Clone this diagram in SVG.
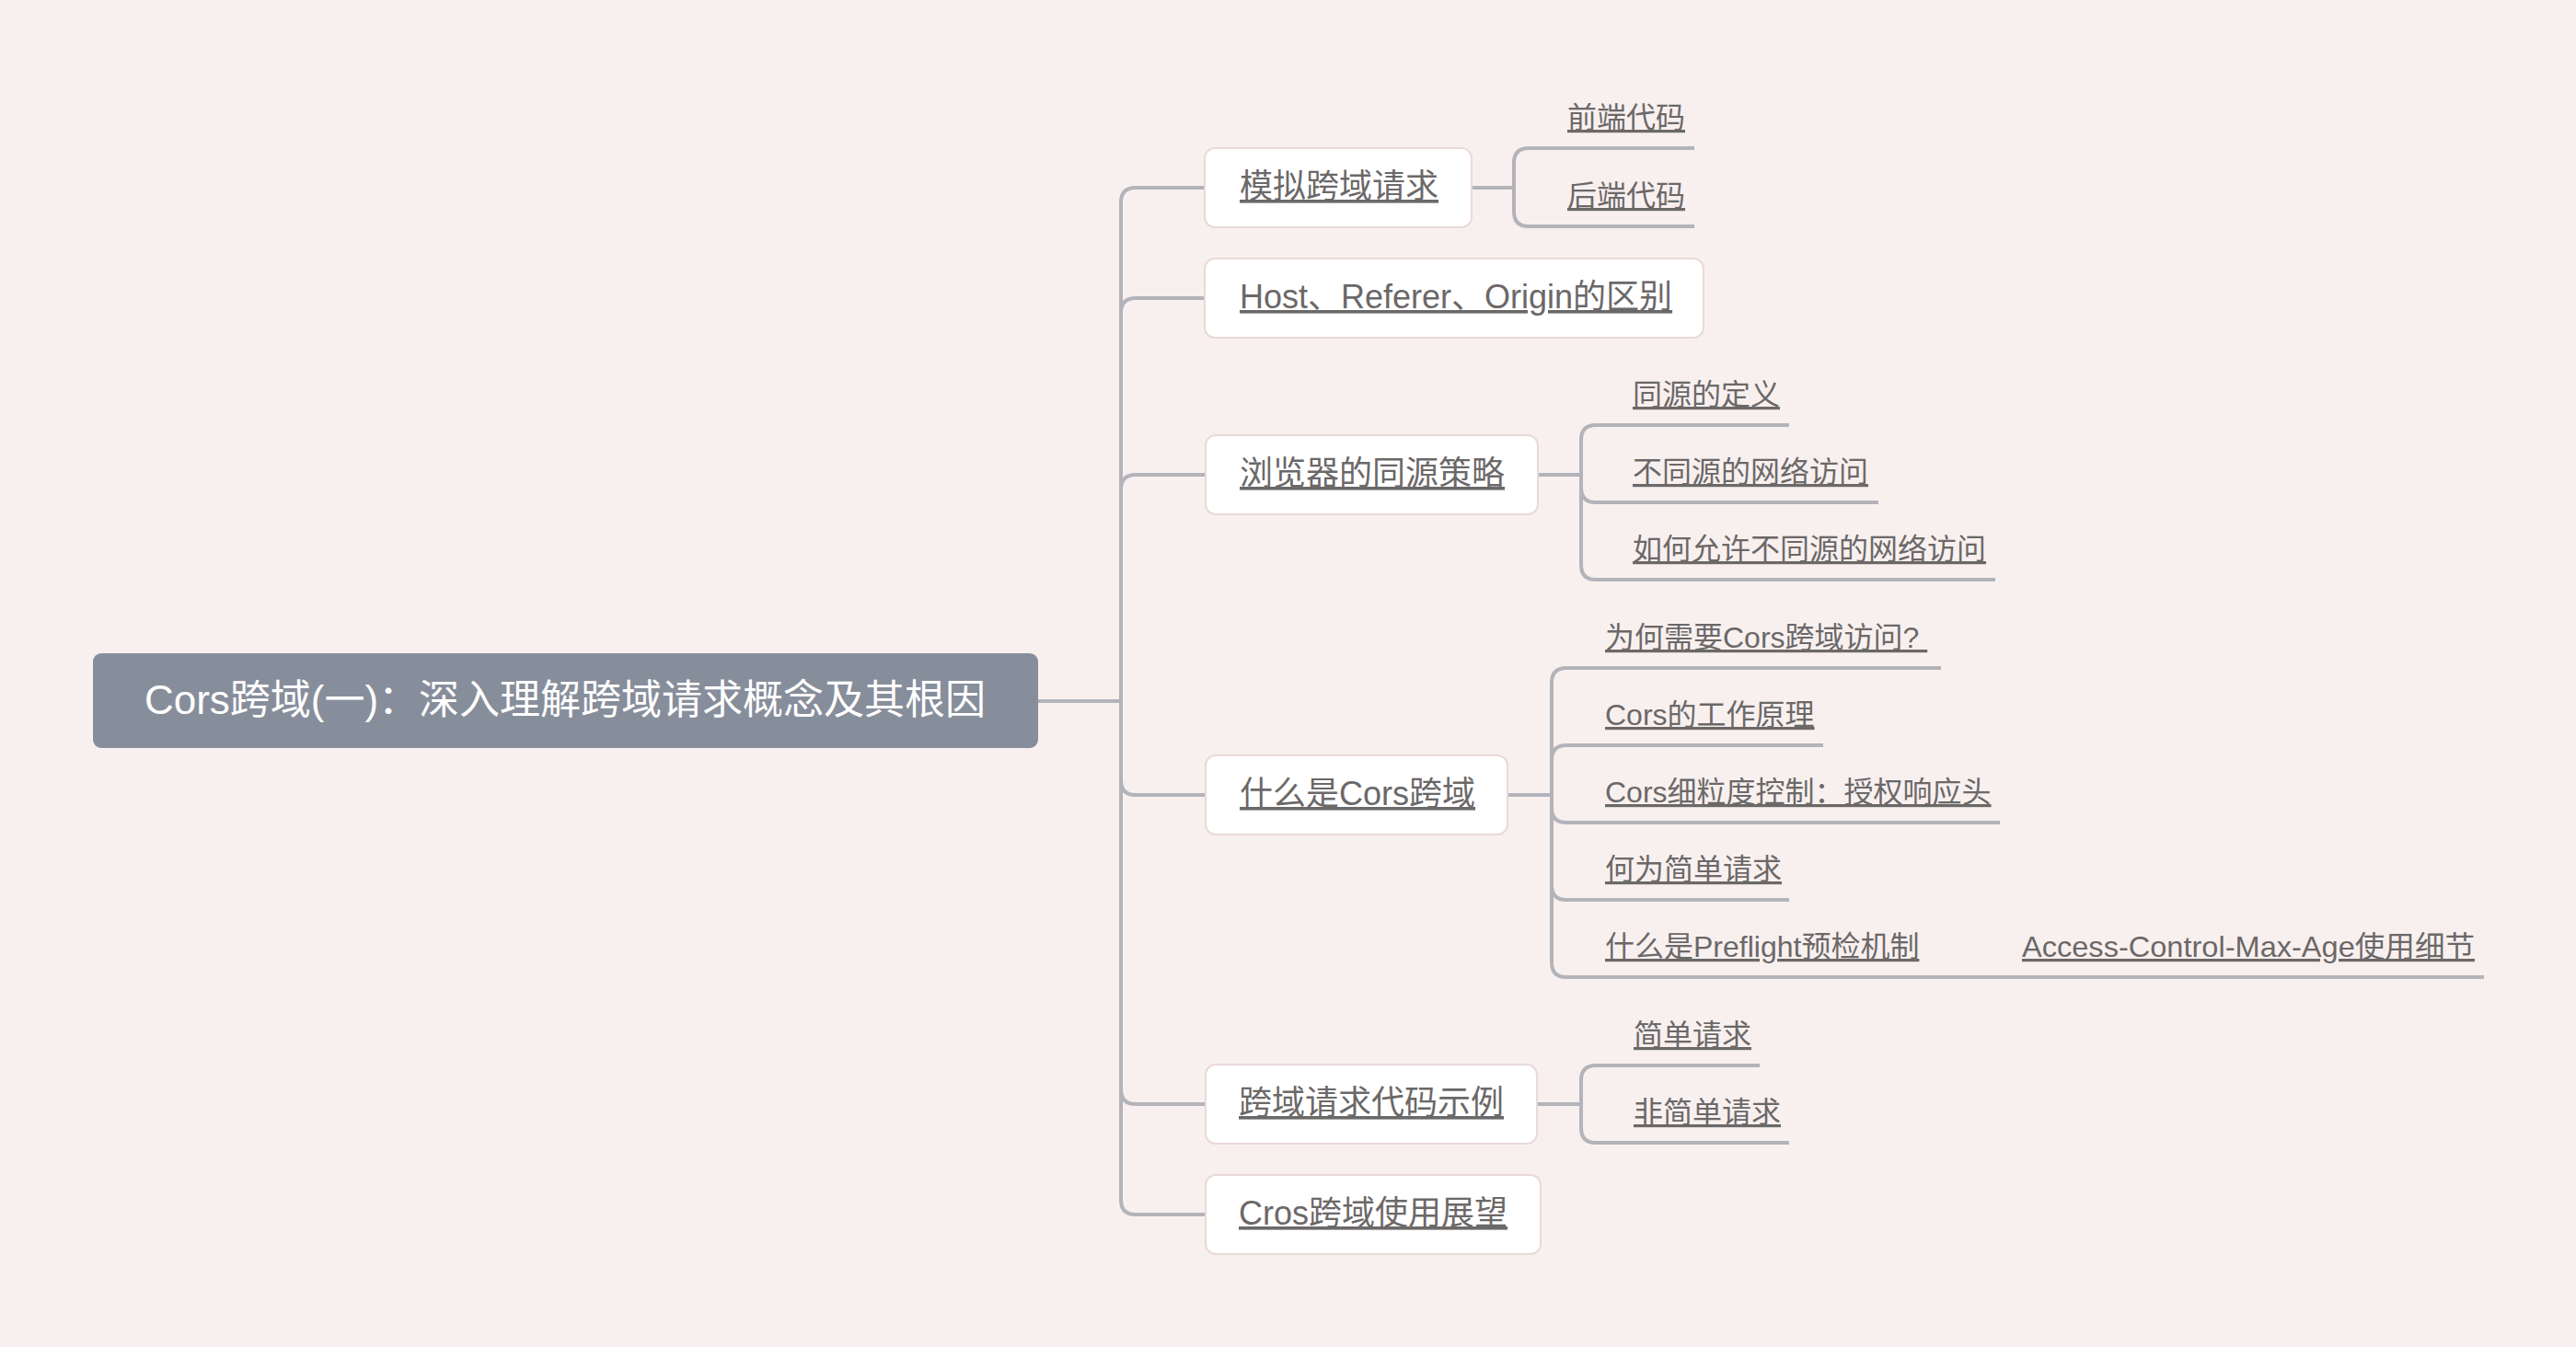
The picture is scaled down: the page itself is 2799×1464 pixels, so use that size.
<svg xmlns="http://www.w3.org/2000/svg" width="2799" height="1464" viewBox="0 0 2799 1464">
<style>
.bg{fill:#f8f0ef}
.rootbox{fill:#878e9b}
.box{fill:#ffffff;stroke:#ead9d9;stroke-width:2}
.rt{font-family:"Liberation Sans","Noto Sans CJK SC",sans-serif;font-size:44px;fill:#ffffff}
.t1{font-family:"Liberation Sans","Noto Sans CJK SC",sans-serif;font-size:36px;fill:#6b6868;text-decoration:underline}
.t2{font-family:"Liberation Sans","Noto Sans CJK SC",sans-serif;font-size:32px;fill:#6b6868;text-decoration:underline}
.link{fill:none;stroke:#b3b3ba;stroke-width:4}
.uline{fill:none;stroke:#b3b3ba;stroke-width:4}
</style>
<rect class="bg" x="0" y="0" width="2799" height="1464"/>
<g id="connectors">
<path class="link" d="M1128,762 H1218"/>
<path class="link" d="M1218,762 V220 Q1218,204 1234,204 H1309"/>
<path class="link" d="M1218,762 V340 Q1218,324 1234,324 H1309"/>
<path class="link" d="M1218,762 V532 Q1218,516 1234,516 H1309"/>
<path class="link" d="M1218,762 V848 Q1218,864 1234,864 H1309"/>
<path class="link" d="M1218,762 V1184 Q1218,1200 1234,1200 H1309"/>
<path class="link" d="M1218,762 V1304 Q1218,1320 1234,1320 H1309"/>
<path class="link" d="M1599,204 H1645"/>
<path class="link" d="M1645,204 V177 Q1645,161 1661,161 H1693"/>
<path class="link" d="M1645,204 V230 Q1645,246 1661,246 H1693"/>
<path class="link" d="M1671,516 H1718"/>
<path class="link" d="M1718,516 V478 Q1718,462 1734,462 H1764"/>
<path class="link" d="M1718,516 V530 Q1718,546 1734,546 H1764"/>
<path class="link" d="M1718,516 V614 Q1718,630 1734,630 H1764"/>
<path class="link" d="M1638,864 H1686"/>
<path class="link" d="M1686,864 V742 Q1686,726 1702,726 H1733"/>
<path class="link" d="M1686,864 V826 Q1686,810 1702,810 H1733"/>
<path class="link" d="M1686,864 V878 Q1686,894 1702,894 H1733"/>
<path class="link" d="M1686,864 V962 Q1686,978 1702,978 H1733"/>
<path class="link" d="M1686,864 V1046 Q1686,1062 1702,1062 H1733"/>
<path class="link" d="M2096,1062 H2185"/>
<path class="link" d="M1670,1200 H1718"/>
<path class="link" d="M1718,1200 V1174 Q1718,1158 1734,1158 H1764"/>
<path class="link" d="M1718,1200 V1226 Q1718,1242 1734,1242 H1764"/>
</g>
<g id="root">
<rect class="rootbox" x="101" y="710" width="1027" height="103" rx="9"/>
<text class="rt" x="614" y="776" text-anchor="middle">Cors跨域(一)：深入理解跨域请求概念及其根因</text>
</g>
<g id="n1">
<rect class="box" x="1309" y="161" width="290" height="86" rx="11"/>
<text class="t1" x="1347" y="215">模拟跨域请求</text>
</g>
<g id="n1a">
<path class="uline" d="M1693,161 H1841"/>
<text class="t2" x="1703" y="139">前端代码</text>
</g>
<g id="n1b">
<path class="uline" d="M1693,246 H1841"/>
<text class="t2" x="1703" y="224">后端代码</text>
</g>
<g id="n2">
<rect class="box" x="1309" y="281" width="542" height="86" rx="11"/>
<text class="t1" x="1347" y="335">Host、Referer、Origin的区别</text>
</g>
<g id="n3">
<rect class="box" x="1310" y="473" width="361" height="86" rx="11"/>
<text class="t1" x="1347" y="527">浏览器的同源策略</text>
</g>
<g id="n3a">
<path class="uline" d="M1764,462 H1944"/>
<text class="t2" x="1774" y="440">同源的定义</text>
</g>
<g id="n3b">
<path class="uline" d="M1764,546 H2041"/>
<text class="t2" x="1774" y="524">不同源的网络访问</text>
</g>
<g id="n3c">
<path class="uline" d="M1764,630 H2168"/>
<text class="t2" x="1774" y="608">如何允许不同源的网络访问</text>
</g>
<g id="n4">
<rect class="box" x="1310" y="821" width="328" height="86" rx="11"/>
<text class="t1" x="1347" y="875">什么是Cors跨域</text>
</g>
<g id="n4a">
<path class="uline" d="M1733,726 H2109"/>
<text class="t2" x="1744" y="704" xml:space="preserve">为何需要Cors跨域访问? </text>
</g>
<g id="n4b">
<path class="uline" d="M1733,810 H1981"/>
<text class="t2" x="1744" y="788">Cors的工作原理</text>
</g>
<g id="n4c">
<path class="uline" d="M1733,894 H2173"/>
<text class="t2" x="1744" y="872">Cors细粒度控制：授权响应头</text>
</g>
<g id="n4d">
<path class="uline" d="M1733,978 H1944"/>
<text class="t2" x="1744" y="956">何为简单请求</text>
</g>
<g id="n4e">
<path class="uline" d="M1733,1062 H2096"/>
<text class="t2" x="1744" y="1040">什么是Preflight预检机制</text>
</g>
<g id="n4e1">
<path class="uline" d="M2185,1062 H2699"/>
<text class="t2" x="2197" y="1040" textLength="492" lengthAdjust="spacingAndGlyphs">Access-Control-Max-Age使用细节</text>
</g>
<g id="n5">
<rect class="box" x="1310" y="1157" width="360" height="86" rx="11"/>
<text class="t1" x="1346" y="1211">跨域请求代码示例</text>
</g>
<g id="n5a">
<path class="uline" d="M1764,1158 H1912"/>
<text class="t2" x="1775" y="1136">简单请求</text>
</g>
<g id="n5b">
<path class="uline" d="M1764,1242 H1944"/>
<text class="t2" x="1775" y="1220">非简单请求</text>
</g>
<g id="n6">
<rect class="box" x="1310" y="1277" width="364" height="86" rx="11"/>
<text class="t1" x="1346" y="1331">Cros跨域使用展望</text>
</g>
</svg>
